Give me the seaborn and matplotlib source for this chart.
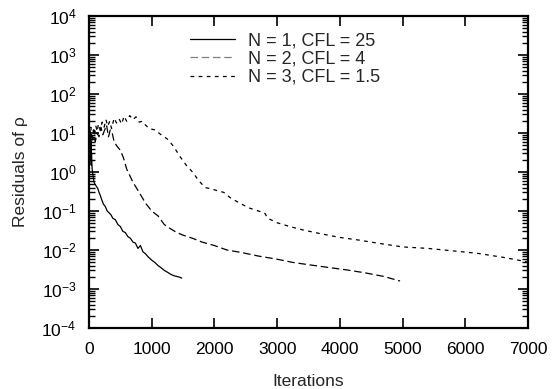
import numpy as np
import pandas as pd
import seaborn as sns
import matplotlib
matplotlib.use("Agg")
import matplotlib.pyplot as plt
from matplotlib.ticker import LogLocator, FixedLocator

# ---- data ----
it1 = [0, 5, 10, 15, 20, 25, 30, 35, 40, 50, 60, 70, 80, 90, 100, 120, 140, 160, 180, 200,
       230, 260, 290, 320, 350, 380, 420, 460, 500, 540, 580, 620, 660, 700, 740, 780, 820,
       860, 900, 950, 1000, 1050, 1100, 1150, 1200, 1250, 1300, 1350, 1400, 1450, 1480]
r1 = [8, 3, 12, 4, 9, 2, 6, 1.5, 3, 1.2, 0.9, 0.7, 0.55, 0.5, 0.48, 0.42, 0.38, 0.3, 0.25, 0.2,
      0.15, 0.13, 0.1, 0.09, 0.08, 0.065, 0.06, 0.045, 0.04, 0.03, 0.028, 0.022, 0.02, 0.016,
      0.015, 0.011, 0.013, 0.009, 0.008, 0.0065, 0.0055, 0.0048, 0.004, 0.0035, 0.003,
      0.0027, 0.0024, 0.0022, 0.0021, 0.002, 0.0019]

it2 = [0, 10, 20, 30, 40, 60, 80, 100, 130, 160, 190, 220, 250, 280, 310, 340, 370, 400,
       450, 500, 550, 600, 700, 800, 900, 1000, 1100, 1200, 1300, 1400, 1500, 1650, 1800,
       2000, 2200, 2450, 2700, 3000, 3250, 3500, 3800, 4100, 4400, 4700, 4960]
r2 = [20, 6, 12, 5, 9, 7, 12, 6, 10, 8, 14, 9, 12, 16, 8, 12, 10, 6, 4.5, 3.6, 2.3, 1.2,
      0.55, 0.3, 0.16, 0.1, 0.075, 0.045, 0.035, 0.028, 0.024, 0.02, 0.016, 0.013, 0.01,
      0.0085, 0.007, 0.0058, 0.0048, 0.0042, 0.0036, 0.0031, 0.0026, 0.0021, 0.0016]

it3 = [0, 15, 30, 50, 70, 90, 110, 130, 150, 180, 210, 240, 270, 300, 330, 360, 400, 440,
       480, 520, 560, 600, 650, 700, 750, 800, 850, 900, 960, 1050, 1150, 1250, 1350, 1450,
       1550, 1650, 1750, 1850, 1950, 2050, 2150, 2250, 2400, 2550, 2700, 2800, 2850, 3000,
       3200, 3400, 3700, 4000, 4300, 4600, 5000, 5400, 5800, 6200, 6600, 6980]
r3 = [20, 8, 14, 6, 12, 9, 15, 11, 17, 12, 19, 14, 22, 15, 20, 13, 24, 18, 23, 17, 27, 20,
      28, 22, 26, 19, 20, 16, 13, 12, 9, 7, 4.5, 2.5, 1.5, 1.0, 0.6, 0.4, 0.37, 0.33, 0.3,
      0.22, 0.16, 0.12, 0.1, 0.09, 0.065, 0.05, 0.04, 0.033, 0.026, 0.021, 0.018, 0.015,
      0.012, 0.011, 0.0095, 0.0082, 0.0065, 0.005]

labels = ["N = 1, CFL = 25", "N = 2, CFL = 4", "N = 3, CFL = 1.5"]

df = pd.concat([
    pd.DataFrame({"it": it1, "res": r1, "case": labels[0]}),
    pd.DataFrame({"it": it2, "res": r2, "case": labels[1]}),
    pd.DataFrame({"it": it3, "res": r3, "case": labels[2]}),
])

sns.set_theme(style="ticks")
plt.rcParams["font.family"] = ["Liberation Sans", "DejaVu Sans"]
plt.rcParams["mathtext.fontset"] = "custom"
plt.rcParams["mathtext.rm"] = "Liberation Sans"
plt.rcParams["mathtext.it"] = "Liberation Sans"

FS = 12.5
fig = plt.figure(figsize=(5.53, 3.89), dpi=100)
ax = fig.add_axes([89 / 553, 1 - 328 / 389, (528 - 89) / 553, (328 - 16) / 389])

for lab, dash in [(labels[0], None), (labels[1], (6, 3)), (labels[2], (3, 3.5))]:
    sub = df[df["case"] == lab]
    sns.lineplot(data=sub, x="it", y="res", ax=ax, color="black", lw=0.9,
                 label=lab, estimator=None, sort=False)
    if dash is not None:
        ax.lines[-1].set_dashes(dash)

ax.set_yscale("log")
ax.set_xlim(0, 7000)
ax.set_ylim(1e-4, 1e4)
ax.xaxis.set_major_locator(FixedLocator([0, 1000, 2000, 3000, 4000, 5000, 6000, 7000]))
ax.yaxis.set_major_locator(LogLocator(base=10, numticks=20))
ax.yaxis.set_minor_locator(LogLocator(base=10, subs=np.arange(2, 10), numticks=20))
ax.tick_params(which="both", direction="in", top=True, right=True, labelsize=FS,
               colors="black")
ax.tick_params(which="major", length=7, width=1.2)
ax.tick_params(axis="x", which="major", pad=10)
ax.tick_params(axis="y", which="major", pad=9)
ax.tick_params(which="minor", length=4, width=1.0)
for s in ax.spines.values():
    s.set_linewidth(1.6)
    s.set_color("black")

ax.set_xlabel("Iterations", fontsize=FS, labelpad=12)
ax.set_ylabel("Residuals of ρ", fontsize=FS, labelpad=10)

leg = ax.legend(loc="upper left", bbox_to_anchor=((190 - 89) / 439, 1 - (32 - 16) / 312),
                frameon=False, fontsize=13, handlelength=2.5, labelspacing=0.08,
                handletextpad=0.7, borderaxespad=0.0, borderpad=0.0)
leg.get_lines()[1].set_color("#808080")
fig.savefig("out.png", dpi=100)
